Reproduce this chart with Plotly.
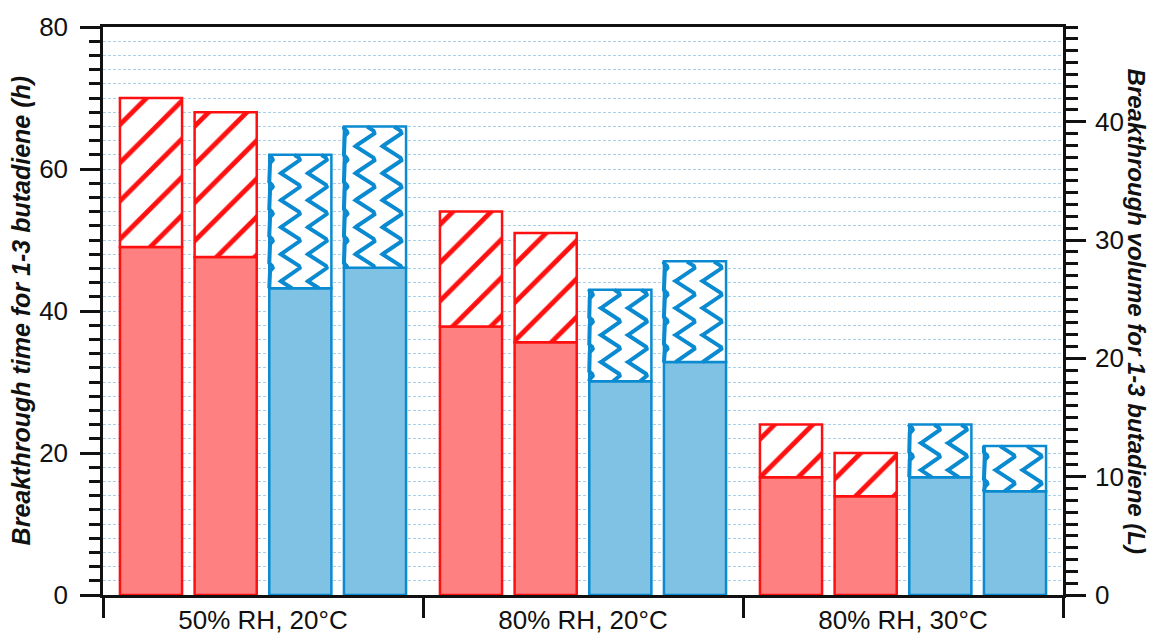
import numpy as np
import plotly.graph_objects as go

categories = ["50% RH, 20°C", "80% RH, 20°C", "80% RH, 30°C"]
series_names = ["Red A", "Red B", "Blue A", "Blue B"]
# breakthrough time (h): solid part and total height of each bar
solid_values = {
    "Red A": [49.0, 37.8, 16.6],
    "Red B": [47.6, 35.6, 13.9],
    "Blue A": [43.2, 30.1, 16.6],
    "Blue B": [46.1, 32.8, 14.6],
}
total_values = {
    "Red A": [70, 54, 24],
    "Red B": [68, 51, 20],
    "Blue A": [62, 43, 24],
    "Blue B": [66, 47, 21],
}
L_PER_H = 0.6  # right axis: volume (L) = time (h) * 0.6

RED_LINE, RED_FILL = "#ff1010", "#ff8080"
BLUE_LINE, BLUE_FILL = "#0a8ad0", "#80c2e3"
FONT = "Liberation Sans, Arial, sans-serif"
GRID = "#a9d0e8"

BARGAP = 0.0667
BARGROUPGAP = 0.168

fig = go.Figure()
for i, name in enumerate(series_names):
    red = name.startswith("Red")
    lc = RED_LINE if red else BLUE_LINE
    fc = RED_FILL if red else BLUE_FILL
    solid = np.array(solid_values[name])
    total = np.array(total_values[name])
    fig.add_trace(go.Bar(
        x=categories, y=solid, offsetgroup=str(i),
        marker=dict(color=fc, line=dict(color=lc, width=2.5)),
        showlegend=False, hoverinfo="skip"))
    if red:
        pat = dict(shape="/", fgcolor=lc, bgcolor="white", size=27, solidity=0.18,
                   fillmode="replace", fgopacity=1)
    else:
        pat = None
    fig.add_trace(go.Bar(
        x=categories, y=total - solid, base=solid, offsetgroup=str(i),
        marker=dict(color="white", line=dict(color=lc, width=2.5), pattern=pat),
        showlegend=False, hoverinfo="skip"))

# wavy texture of the blue hatched segments (drawn on an overlaid numeric x axis)
L_MARGIN, R_MARGIN, T_MARGIN, B_MARGIN = 103, 89, 27, 40
W, H = 1152, 635
px_x = 3.0 / (W - L_MARGIN - R_MARGIN)      # data units per pixel (x)
px_y = 80.0 / (H - T_MARGIN - B_MARGIN)     # data units per pixel (y)
slot = (1 - BARGAP) / 4
bw = slot * (1 - BARGROUPGAP)
wx, wy = [], []
period = 27 * px_y
amp = 9.5 * px_x
for i, name in enumerate(series_names):
    if name.startswith("Red"):
        continue
    for g in range(len(categories)):
        cx = g - (1 - BARGAP) / 2 + slot * (i + 0.5)
        left, right = cx - bw / 2, cx + bw / 2
        y0, y1 = solid_values[name][g], total_values[name][g]
        ys = np.arange(y0, y1 + 1e-9, period / 80)
        ph = ((ys - 2 * px_y) / period) % 1.0
        # chevron zigzag with short flats at the right tips
        shape = np.interp(ph, [0, 0.1, 0.55, 1.0], [1, 1, -1, 1])
        for k in range(4):
            col = left + (-6 + 27 * k) * px_x
            xs = np.clip(col + amp * shape, left, right)
            if np.all(xs == left) or np.all(xs == right):
                continue
            wx.extend(list(xs) + [None])
            wy.extend(list(ys) + [None])
fig.add_trace(go.Scatter(x=wx, y=wy, xaxis="x2", mode="lines",
                         line=dict(color=BLUE_LINE, width=4),
                         showlegend=False, hoverinfo="skip", cliponaxis=True))

# invisible trace to activate the right axis
fig.add_trace(go.Scatter(x=categories, y=[v * L_PER_H for v in total_values["Red A"]],
                         yaxis="y2", mode="markers", marker=dict(opacity=0),
                         showlegend=False, hoverinfo="skip"))

TICK_SIZE = 26
axis_line = dict(showline=True, linecolor="#111111", linewidth=2.5)
fig.update_layout(
    width=W, height=H,
    margin=dict(l=L_MARGIN, r=R_MARGIN, t=T_MARGIN, b=B_MARGIN, autoexpand=False),
    plot_bgcolor="white", paper_bgcolor="white",
    barmode="group", bargap=BARGAP, bargroupgap=BARGROUPGAP,
    font=dict(family=FONT, size=TICK_SIZE, color="#111111"),
    xaxis=dict(type="category", range=[-0.5, 2.5], tickson="boundaries",
               ticks="outside", ticklen=20, tickwidth=2.5, tickcolor="#111111",
               mirror=True, showgrid=False, zeroline=False, **axis_line,
               tickfont=dict(size=TICK_SIZE)),
    xaxis2=dict(overlaying="x", range=[-0.5, 2.5], visible=False),
    yaxis=dict(range=[0, 80], dtick=20, ticks="outside", ticklen=20, tickwidth=2.5,
               tickcolor="#111111", zeroline=False, **axis_line,
               showgrid=True, gridcolor=GRID, gridwidth=1, griddash="3px,2px",
               minor=dict(dtick=2, ticks="outside", ticklen=11, tickwidth=2.5,
                          tickcolor="#111111", showgrid=True, gridcolor=GRID,
                          gridwidth=1, griddash="3px,2px"),
               tickfont=dict(size=TICK_SIZE), ticklabelstandoff=7),
    yaxis2=dict(overlaying="y", side="right", range=[0, 80 * L_PER_H], dtick=10,
                ticks="outside", ticklen=20, tickwidth=2.5, tickcolor="#111111",
                showgrid=False, zeroline=False, **axis_line,
                minor=dict(dtick=1, ticks="outside", ticklen=12, tickwidth=2.5,
                           tickcolor="#111111", showgrid=False),
                tickfont=dict(size=TICK_SIZE), ticklabelstandoff=4),
    annotations=[
        dict(text="<b><i>Breakthrough time for 1-3 butadiene (h)</i></b>",
             xref="paper", yref="paper", x=-0.085, y=0.5, textangle=-90,
             showarrow=False, font=dict(size=25, family=FONT), xanchor="center", yanchor="middle"),
        dict(text="<b><i>Breakthrough volume for 1-3 butadiene (L)</i></b>",
             xref="paper", yref="paper", x=1.0775, y=0.5, textangle=90,
             showarrow=False, font=dict(size=24, family=FONT), xanchor="center", yanchor="middle"),
    ],
)

fig.write_html("out.html", config={"displayModeBar": False},
               post_script="document.body.style.margin='0';")
